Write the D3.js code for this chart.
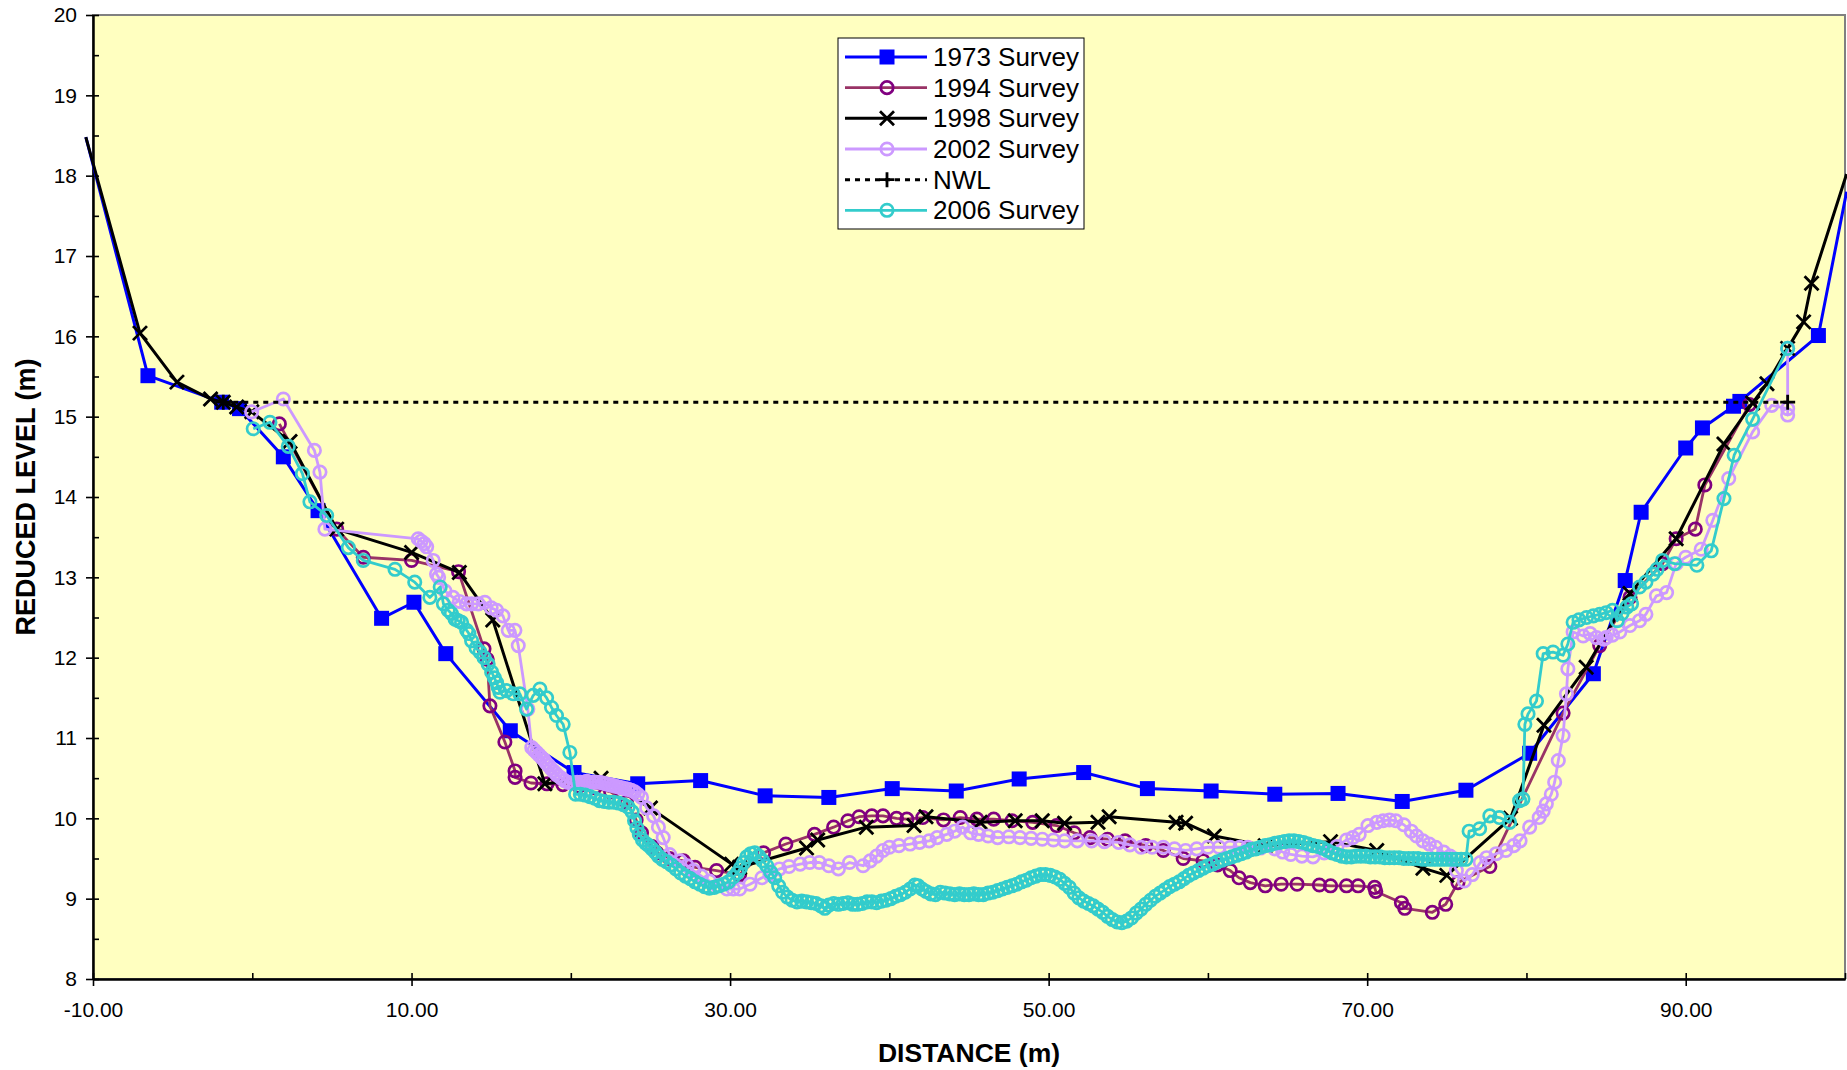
<!DOCTYPE html>
<html><head><meta charset="utf-8">
<script src="https://cdn.jsdelivr.net/npm/d3@7"></script>
<style>body{margin:0;background:#fff}svg{display:block}text{font-family:"Liberation Sans",Arial,sans-serif}</style>
</head><body><svg id="c" width="1847" height="1070"></svg>
<script>
// ---------------- DATA (distance m, reduced level m) ----------------
const s1973 = [[-10.45,18.48],[-6.55,15.51],[-1.92,15.18],[-0.8,15.1],[1.95,14.5],[4.13,13.83],[8.12,12.49],[10.15,12.69],[12.15,12.05],[16.2,11.09],[20.2,10.57],[24.2,10.43],[28.15,10.47],[32.2,10.28],[36.2,10.26],[40.18,10.37],[44.2,10.34],[48.15,10.49],[52.2,10.57],[56.2,10.37],[60.2,10.34],[64.2,10.3],[68.17,10.31],[72.2,10.21],[76.2,10.35],[80.2,10.81],[84.2,11.8],[86.2,12.96],[87.2,13.81],[90.0,14.61],[91.05,14.86],[93.0,15.13],[93.4,15.19],[98.33,16.01],[100.1,17.8]];

const s1994 = [[1.7,14.91],[5.3,13.6],[6.97,13.25],[10.0,13.21],[12.95,13.07],[14.55,12.11],[14.75,11.98],[14.92,11.4],[15.86,10.95],[16.5,10.59],[16.5,10.51],[17.5,10.44],[18.5,10.43],[19.5,10.42],[20.5,10.4],[21.5,10.38],[22.5,10.33],[23.5,10.2],[24.1,9.98],[24.44,9.82],[25.1,9.65],[25.4,9.57],[26.2,9.5],[27.07,9.47],[27.8,9.39],[29.15,9.35],[30.6,9.3],[32.1,9.57],[33.5,9.68],[35.3,9.8],[36.5,9.89],[37.4,9.97],[38.1,10.02],[38.9,10.03],[39.6,10.03],[40.45,10.0],[41.1,9.99],[42.1,10.01],[43.4,9.98],[44.45,10.01],[45.5,9.99],[46.55,9.99],[47.7,9.97],[49.0,9.95],[50.5,9.91],[51.6,9.82],[52.6,9.76],[53.7,9.74],[54.8,9.72],[56.1,9.66],[57.2,9.6],[58.45,9.5],[59.7,9.47],[60.6,9.42],[61.4,9.35],[61.95,9.26],[62.66,9.2],[63.6,9.16],[64.6,9.18],[65.6,9.18],[67.0,9.17],[67.7,9.16],[68.7,9.16],[69.43,9.16],[70.47,9.14],[70.54,9.09],[72.15,8.95],[72.36,8.88],[74.09,8.83],[74.93,8.93],[75.7,9.2],[77.7,9.4],[82.3,11.31],[84.6,12.15],[86.5,12.75],[88.55,13.17],[89.4,13.48],[90.6,13.6],[91.2,14.15],[94.0,15.15]];

const s1998 = [[-10.45,18.48],[-7.05,16.04],[-4.73,15.43],[-2.62,15.22],[-1.82,15.18],[-0.98,15.12],[-0.03,15.06],[2.37,14.69],[5.3,13.6],[10.0,13.31],[13.0,13.06],[15.1,12.47],[18.37,10.43],[21.9,10.5],[25.0,10.13],[30.1,9.43],[30.6,9.39],[34.8,9.63],[35.5,9.73],[38.55,9.89],[41.55,9.91],[42.3,10.02],[45.7,9.95],[47.9,9.97],[49.6,9.97],[51.0,9.94],[53.1,9.95],[53.8,10.02],[58.0,9.95],[58.6,9.94],[60.4,9.78],[63.6,9.66],[67.7,9.71],[70.6,9.6],[73.5,9.38],[75.0,9.29],[79.0,10.0],[81.1,11.16],[83.75,11.88],[86.5,12.8],[89.4,13.48],[92.4,14.66],[94.2,15.17],[95.1,15.41],[96.4,15.85],[97.4,16.18],[97.9,16.66],[100.1,18.02]];

const s2002 = [[-0.04,15.06],[1.95,15.22],[3.9,14.58],[4.25,14.31],[4.56,13.6],[10.42,13.48],[10.6,13.45],[10.8,13.42],[10.95,13.38],[11.36,13.21],[11.57,13.04],[11.7,13.0],[12.1,12.83],[12.6,12.75],[13.0,12.7],[13.45,12.67],[13.77,12.67],[14.19,12.67],[14.6,12.69],[15.0,12.62],[15.34,12.59],[15.74,12.52],[16.07,12.34],[16.49,12.34],[16.7,12.15],[17.3,11.36],[17.55,10.88],[17.7,10.85],[17.85,10.82],[18.0,10.79],[18.15,10.76],[18.3,10.73],[18.45,10.69],[18.6,10.66],[18.75,10.62],[18.9,10.59],[19.05,10.56],[19.2,10.53],[19.4,10.5],[19.6,10.47],[19.8,10.45],[20.0,10.44],[20.2,10.44],[20.4,10.45],[20.6,10.45],[20.8,10.45],[21.0,10.46],[21.2,10.45],[21.4,10.45],[21.6,10.45],[21.8,10.45],[22.0,10.44],[22.2,10.43],[22.4,10.42],[22.6,10.41],[22.8,10.4],[23.0,10.39],[23.2,10.38],[23.4,10.37],[23.6,10.36],[23.8,10.35],[24.0,10.33],[24.2,10.3],[24.44,10.26],[24.76,10.13],[25.2,10.03],[25.5,9.89],[25.8,9.76],[26.2,9.55],[26.85,9.47],[27.3,9.41],[27.7,9.35],[28.2,9.28],[28.7,9.22],[29.2,9.16],[29.8,9.12],[30.2,9.12],[30.6,9.12],[31.25,9.18],[32.0,9.26],[32.5,9.3],[33.1,9.37],[33.7,9.4],[34.4,9.43],[35.0,9.45],[35.6,9.45],[36.2,9.41],[36.8,9.37],[37.5,9.45],[38.35,9.41],[38.8,9.47],[39.2,9.53],[39.6,9.6],[40.0,9.64],[40.6,9.66],[41.3,9.68],[41.9,9.7],[42.5,9.72],[43.0,9.76],[43.6,9.8],[44.1,9.84],[44.6,9.89],[45.1,9.82],[45.6,9.8],[46.2,9.78],[46.8,9.76],[47.5,9.77],[48.2,9.76],[48.9,9.75],[49.6,9.74],[50.3,9.73],[51.0,9.72],[51.8,9.72],[52.7,9.72],[53.5,9.71],[54.4,9.7],[55.1,9.67],[55.8,9.64],[56.5,9.64],[57.2,9.64],[57.9,9.62],[58.6,9.6],[59.3,9.62],[60.0,9.64],[60.7,9.64],[61.4,9.64],[62.0,9.64],[62.5,9.64],[63.3,9.63],[64.2,9.62],[64.7,9.58],[65.2,9.55],[65.9,9.53],[66.6,9.52],[67.3,9.57],[68.1,9.65],[68.7,9.73],[69.1,9.76],[69.5,9.8],[70.05,9.91],[70.6,9.95],[71.0,9.97],[71.4,9.98],[71.8,9.97],[72.3,9.92],[72.77,9.84],[73.1,9.78],[73.5,9.72],[73.9,9.68],[74.3,9.64],[74.8,9.58],[75.2,9.53],[75.6,9.35],[76.1,9.22],[76.6,9.3],[77.1,9.45],[77.5,9.51],[78.1,9.56],[78.7,9.6],[79.2,9.66],[79.6,9.72],[80.2,9.89],[80.8,10.01],[81.05,10.09],[81.25,10.18],[81.56,10.3],[81.77,10.45],[82.0,10.72],[82.3,11.03],[82.51,11.55],[82.6,11.86],[82.93,12.32],[83.56,12.27],[84.0,12.3],[84.4,12.25],[84.85,12.23],[85.0,12.25],[85.4,12.28],[85.86,12.32],[86.5,12.4],[87.1,12.46],[87.5,12.54],[88.16,12.77],[88.8,12.81],[89.4,13.17],[90.0,13.25],[90.97,13.35],[91.7,13.71],[92.7,14.23],[94.2,14.81],[95.4,15.14],[96.4,15.1],[96.4,15.02],[96.4,15.85]];

const nwl = [[-1.82,15.18],[96.4,15.18]];

const s2006 = [[0.06,14.85],[1.11,14.93],[2.26,14.63],[3.15,14.29],[3.62,13.94],[4.67,13.77],[6.03,13.37],[6.97,13.21],[8.96,13.1],[10.2,12.94],[11.15,12.75],[11.8,12.88],[12.0,12.67],[12.3,12.59],[12.5,12.55],[12.73,12.48],[12.93,12.46],[13.14,12.44],[13.46,12.34],[13.6,12.3],[13.77,12.21],[14.05,12.12],[14.3,12.07],[14.55,12.0],[14.81,11.92],[15.03,11.82],[15.2,11.75],[15.34,11.69],[15.44,11.63],[15.55,11.57],[15.96,11.59],[16.38,11.55],[16.8,11.55],[17.22,11.36],[17.64,11.53],[18.06,11.61],[18.48,11.5],[18.79,11.38],[19.1,11.28],[19.52,11.17],[19.94,10.82],
[20.3,10.3],[20.6,10.3],[20.9,10.29],[21.2,10.27],[21.5,10.25],[21.8,10.22],[22.1,10.21],[22.4,10.2],[22.7,10.2],[23.0,10.19],[23.3,10.17],[23.6,10.14],[23.85,10.08],[24.0,9.97],[24.15,9.88],[24.3,9.8],[24.5,9.73],[24.7,9.69],[24.9,9.66],[25.1,9.62],[25.3,9.58],[25.5,9.53],[25.75,9.49],[26.0,9.46],[26.3,9.42],[26.6,9.37],[26.9,9.32],[27.2,9.28],[27.5,9.25],[27.8,9.21],[28.1,9.18],[28.4,9.15],[28.7,9.13],[29.0,9.14],[29.3,9.16],[29.6,9.18],[29.9,9.21],[30.2,9.27],[30.45,9.32],[30.65,9.38],[30.85,9.45],[31.05,9.52],[31.3,9.56],[31.55,9.57],[31.8,9.53],[32.05,9.47],[32.3,9.41],[32.55,9.33],[32.8,9.26],[33.05,9.16],[33.3,9.08],[33.6,9.02],[33.9,8.98],[34.2,8.96],[34.5,8.97],[34.8,8.96],[35.1,8.95],[35.4,8.94],[35.7,8.91],[35.95,8.88],[36.2,8.92],[36.5,8.94],[36.8,8.93],[37.1,8.94],[37.4,8.95],[37.7,8.93],[38.0,8.93],[38.3,8.94],[38.6,8.96],[38.9,8.96],[39.2,8.95],[39.5,8.97],[39.8,8.98],[40.1,9.0],[40.4,9.03],[40.7,9.05],[41.0,9.08],[41.3,9.12],[41.6,9.17],[41.8,9.16],[42.05,9.12],[42.3,9.09],[42.6,9.06],[42.9,9.05],[43.2,9.08],[43.5,9.07],[43.8,9.06],[44.1,9.05],[44.4,9.06],[44.7,9.05],[45.0,9.05],[45.3,9.06],[45.6,9.05],[45.9,9.05],[46.2,9.07],[46.5,9.08],[46.8,9.1],[47.1,9.12],[47.4,9.14],[47.7,9.16],[48.0,9.18],[48.3,9.21],[48.6,9.23],[48.9,9.26],[49.2,9.28],[49.5,9.3],[49.8,9.3],[50.1,9.29],[50.4,9.27],[50.7,9.24],[51.0,9.19],[51.3,9.14],[51.6,9.07],[51.9,9.01],[52.2,8.97],[52.5,8.94],[52.8,8.91],[53.1,8.87],[53.4,8.83],[53.7,8.78],[54.0,8.74],[54.3,8.71],[54.6,8.7],[54.9,8.72],[55.2,8.76],[55.5,8.82],[55.8,8.87],[56.1,8.93],[56.4,8.98],[56.7,9.03],[57.0,9.07],[57.3,9.11],[57.6,9.15],[57.9,9.18],[58.2,9.21],[58.5,9.25],[58.8,9.29],[59.1,9.32],[59.4,9.35],[59.7,9.38],[60.0,9.41],[60.3,9.43],[60.6,9.46],[60.9,9.48],[61.2,9.5],[61.5,9.52],[61.8,9.54],[62.1,9.56],[62.4,9.58],[62.7,9.61],[63.0,9.62],[63.3,9.64],[63.6,9.66],[63.9,9.67],[64.2,9.69],[64.5,9.7],[64.8,9.71],[65.1,9.72],[65.4,9.72],[65.7,9.71],[66.0,9.7],[66.3,9.68],[66.6,9.66],[66.9,9.65],[67.2,9.63],[67.5,9.6],[67.8,9.57],[68.1,9.55],[68.4,9.53],[68.7,9.52],[69.0,9.52],[69.3,9.53],[69.6,9.53],[69.9,9.53],[70.2,9.52],[70.5,9.52],[70.8,9.52],[71.1,9.51],[71.4,9.51],[71.7,9.51],[72.0,9.51],[72.3,9.5],[72.6,9.5],[72.9,9.5],[73.2,9.5],[73.5,9.49],[73.8,9.49],[74.1,9.49],[74.4,9.49],[74.7,9.49],[75.0,9.49],[75.3,9.49],[75.6,9.49],[75.9,9.49],[76.2,9.49],
[76.4,9.84],[77.06,9.87],[77.7,10.03],[78.3,10.01],[78.94,9.95],[79.57,10.22],[79.78,10.24],[79.9,11.17],[80.1,11.3],[80.63,11.46],[81.05,12.05],[81.67,12.07],[82.3,12.03],[82.6,12.17],[82.93,12.44],[83.3,12.47],[83.77,12.5],[84.2,12.52],[84.6,12.54],[85.0,12.56],[85.4,12.59],[85.7,12.46],[86.0,12.55],[86.3,12.63],[86.6,12.67],[87.1,12.88],[87.5,12.94],[87.95,13.04],[88.2,13.1],[88.55,13.21],[89.3,13.17],[90.7,13.15],[91.6,13.33],[92.4,13.98],[93.04,14.52],[94.2,14.97],[96.4,15.85]];

const xMajorTicks = [-10, 10, 30, 50, 70, 90];
const xAllTicks = [-10, 0, 10, 20, 30, 40, 50, 60, 70, 80, 90, 100];
const yMajorTicks = [8, 9, 10, 11, 12, 13, 14, 15, 16, 17, 18, 19, 20];
const yAllTicks = [8, 8.5, 9, 9.5, 10, 10.5, 11, 11.5, 12, 12.5, 13, 13.5, 14, 14.5, 15, 15.5, 16, 16.5, 17, 17.5, 18, 18.5, 19, 19.5, 20];
const seriesNames = ["1973 Survey", "1994 Survey", "1998 Survey", "2002 Survey", "NWL", "2006 Survey"];

// ---------------- CHART ----------------
const svg = d3.select("#c");
const L = 93, R = 1845, T = 15, B = 979;
const x = d3.scaleLinear().domain([-10, 100]).range([L, R]);
const y = d3.scaleLinear().domain([8, 20]).range([B, T]);

svg.append("rect").attr("x", 0).attr("y", 0).attr("width", 1847).attr("height", 1070).attr("fill", "#fff");
svg.append("rect").attr("x", L).attr("y", T).attr("width", R - L).attr("height", B - T)
  .attr("fill", "#FFFFC0").attr("stroke", "#808080").attr("stroke-width", 2);

function styleAxis(g) {
  g.select(".domain").attr("stroke", "#000").attr("stroke-width", 2);
  g.selectAll(".tick line").attr("stroke", "#000").attr("stroke-width", 1.6);
  g.selectAll(".tick text").attr("fill", "#000").attr("font-size", 21)
    .attr("font-family", '"Liberation Sans", Arial, sans-serif');
}
const fmtX = d => d3.format(".2f")(d).replace("\u2212", "-");
// y axis: major ticks outside with labels, all ticks inside
svg.append("g").attr("transform", `translate(${L},0)`)
  .call(d3.axisLeft(y).tickValues(yMajorTicks).tickSize(7).tickPadding(9).tickSizeOuter(0).tickFormat(d3.format("d")))
  .call(styleAxis);
svg.append("g").attr("transform", `translate(${L},0)`)
  .call(d3.axisRight(y).tickValues(yAllTicks).tickSize(6).tickSizeOuter(0).tickFormat(""))
  .call(styleAxis);
// x axis
svg.append("g").attr("transform", `translate(0,${B})`)
  .call(d3.axisBottom(x).tickValues(xMajorTicks).tickSize(7).tickPadding(16).tickSizeOuter(0).tickFormat(fmtX))
  .call(styleAxis);
svg.append("g").attr("transform", `translate(0,${B})`)
  .call(d3.axisTop(x).tickValues(xAllTicks).tickSize(6).tickSizeOuter(0).tickFormat(""))
  .call(styleAxis);

// axis titles
svg.append("text").attr("x", (L + R) / 2).attr("y", 1062).attr("text-anchor", "middle")
  .attr("font-size", 26.5).attr("font-weight", "bold").text("DISTANCE (m)");
svg.append("text").attr("transform", `translate(35,${(T + B) / 2}) rotate(-90)`).attr("text-anchor", "middle")
  .attr("font-size", 27).attr("font-weight", "bold").text("REDUCED LEVEL (m)");

const series = [
  { name: seriesNames[0], data: s1973, line: "#0000FF", mark: "#0000FF", shape: "square", w: 3 },
  { name: seriesNames[1], data: s1994, line: "#993366", mark: "#800080", shape: "circle", w: 2.8 },
  { name: seriesNames[2], data: s1998, line: "#000000", mark: "#000000", shape: "x", w: 3 },
  { name: seriesNames[3], data: s2002, line: "#CC99FF", mark: "#CC99FF", shape: "circle", w: 2.8 },
  { name: seriesNames[4], data: nwl, line: "#000000", mark: "#000000", shape: "plus", w: 3, dash: "5,5" },
  { name: seriesNames[5], data: s2006, line: "#33CCCC", mark: "#33CCCC", shape: "circle", w: 2.8 }
];

const line = d3.line().x(d => x(d[0])).y(d => y(d[1]));

function drawMarker(sel, s, k) {
  k = k || 1;
  if (s.shape === "square") {
    sel.append("rect").attr("x", -7.5 * k).attr("y", -7.5 * k).attr("width", 15 * k).attr("height", 15 * k).attr("fill", s.mark);
  } else if (s.shape === "circle") {
    sel.append("circle").attr("r", 6.2 * k).attr("fill", "none").attr("stroke", s.mark).attr("stroke-width", 2.7);
  } else if (s.shape === "x") {
    sel.append("path").attr("d", `M${-7*k},${-7*k}L${7*k},${7*k}M${-7*k},${7*k}L${7*k},${-7*k}`)
      .attr("stroke", s.mark).attr("stroke-width", 2.8).attr("fill", "none");
  } else if (s.shape === "plus") {
    sel.append("path").attr("d", `M${-7.5*k},0H${7.5*k}M0,${-7.5*k}V${7.5*k}`).attr("stroke", s.mark).attr("stroke-width", 2.8).attr("fill", "none");
  }
}

series.forEach(s => {
  const g = svg.append("g");
  g.append("path").attr("d", line(s.data)).attr("fill", "none").attr("stroke", s.line)
    .attr("stroke-width", s.w).attr("stroke-linejoin", "round")
    .attr("stroke-dasharray", s.dash || null);
  const pts = s.data.filter(d => d[0] >= -10 && d[0] <= 100);
  g.selectAll("g.m").data(pts).join("g").attr("class", "m")
    .attr("transform", d => `translate(${x(d[0])},${y(d[1])})`)
    .each(function () { drawMarker(d3.select(this), s); });
});

// legend
const lg = svg.append("g");
lg.append("rect").attr("x", 838).attr("y", 38).attr("width", 246).attr("height", 191)
  .attr("fill", "#fff").attr("stroke", "#000").attr("stroke-width", 1);
series.forEach((s, i) => {
  const cy = 57 + 30.66 * i;
  lg.append("line").attr("x1", 845).attr("x2", 927).attr("y1", cy).attr("y2", cy)
    .attr("stroke", s.line).attr("stroke-width", s.w).attr("stroke-dasharray", s.dash || null);
  const m = lg.append("g").attr("transform", `translate(887,${cy})`);
  drawMarker(m, s, 1.0);
  lg.append("text").attr("x", 933).attr("y", cy).attr("dy", "0.35em").attr("font-size", 26)
    .attr("fill", "#000").text(s.name);
});
</script></body></html>
